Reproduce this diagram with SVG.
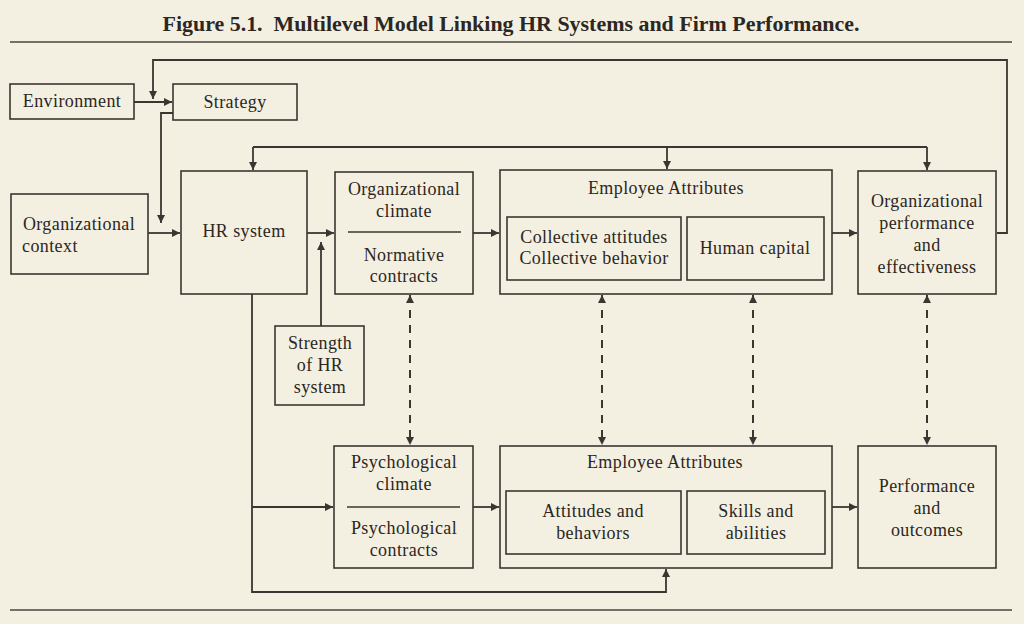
<svg xmlns="http://www.w3.org/2000/svg" width="1024" height="624" viewBox="0 0 1024 624">
<style>
.bg{fill:#f4f0e1}
.box{fill:none;stroke:#3b3631;stroke-width:1.6}
.ln{fill:none;stroke:#3b3631;stroke-width:1.8}
.dash{fill:none;stroke:#3b3631;stroke-width:2;stroke-dasharray:8 7}
.rule{stroke:#4a4540;stroke-width:1.6}
text{font-family:"Liberation Serif","Times New Roman",serif;font-size:18px;fill:#2c2722;text-anchor:middle;letter-spacing:0.4px}
.title{font-weight:bold;font-size:20px;letter-spacing:0;white-space:pre}
</style>
<defs>
<marker id="ah" viewBox="0 0 10 10" refX="10" refY="5" markerWidth="11" markerHeight="8" markerUnits="userSpaceOnUse" orient="auto">
<path d="M0,0 L10,5 L0,10 z" fill="#3b3631"/>
</marker>
<marker id="ahs" viewBox="0 0 10 10" refX="10" refY="5" markerWidth="11" markerHeight="8" markerUnits="userSpaceOnUse" orient="auto-start-reverse">
<path d="M0,0 L10,5 L0,10 z" fill="#3b3631"/>
</marker>
</defs>
<rect class="bg" x="0" y="0" width="1024" height="624"/>
<text class="title" x="511" y="31" textLength="697" lengthAdjust="spacingAndGlyphs">Figure 5.1.  Multilevel Model Linking HR Systems and Firm Performance.</text>
<line class="rule" x1="10" y1="42" x2="1012" y2="42"/>
<line class="rule" x1="10" y1="610" x2="1012" y2="610"/>

<g id="connectors">
<line class="ln" x1="134" y1="102" x2="172" y2="102" marker-end="url(#ah)"/>
<polyline class="ln" points="997,233 1007,233 1007,60 153,60 153,99" marker-end="url(#ah)"/>
<polyline class="ln" points="173,113 161,113 161,223" marker-end="url(#ah)"/>
<line class="ln" x1="148" y1="233" x2="180" y2="233" marker-end="url(#ah)"/>
<polyline class="ln" points="253,147 927,147"/>
<line class="ln" x1="253" y1="147" x2="253" y2="170" marker-end="url(#ah)"/>
<line class="ln" x1="667" y1="147" x2="667" y2="169" marker-end="url(#ah)"/>
<line class="ln" x1="927" y1="147" x2="927" y2="170" marker-end="url(#ah)"/>
<line class="ln" x1="307" y1="233" x2="334" y2="233" marker-end="url(#ah)"/>
<line class="ln" x1="321" y1="326" x2="321" y2="242" marker-end="url(#ah)"/>
<line class="ln" x1="473" y1="233" x2="499" y2="233" marker-end="url(#ah)"/>
<line class="ln" x1="832" y1="233" x2="857" y2="233" marker-end="url(#ah)"/>
<polyline class="ln" points="252,294 252,592 666,592 666,569" marker-end="url(#ah)"/>
<line class="ln" x1="252" y1="507" x2="333" y2="507" marker-end="url(#ah)"/>
<line class="ln" x1="473" y1="507" x2="499" y2="507" marker-end="url(#ah)"/>
<line class="ln" x1="832" y1="507" x2="857" y2="507" marker-end="url(#ah)"/>
<line class="dash" x1="410" y1="295" x2="410" y2="445" marker-start="url(#ahs)" marker-end="url(#ahs)"/>
<line class="dash" x1="602" y1="295" x2="602" y2="445" marker-start="url(#ahs)" marker-end="url(#ahs)"/>
<line class="dash" x1="753" y1="295" x2="753" y2="445" marker-start="url(#ahs)" marker-end="url(#ahs)"/>
<line class="dash" x1="927" y1="295" x2="927" y2="445" marker-start="url(#ahs)" marker-end="url(#ahs)"/>
</g>

<g id="environment">
<rect class="box" x="10" y="84" width="124" height="35"/>
<text x="72" y="107">Environment</text>
</g>
<g id="strategy">
<rect class="box" x="173" y="84" width="124" height="36"/>
<text x="235" y="108">Strategy</text>
</g>
<g id="org-context">
<rect class="box" x="11" y="194" width="137" height="80"/>
<text x="79" y="230">Organizational</text>
<text x="22" y="252" style="text-anchor:start">context</text>
</g>
<g id="hr-system">
<rect class="box" x="181" y="171" width="126" height="123"/>
<text x="244" y="237">HR system</text>
</g>
<g id="org-climate">
<rect class="box" x="335" y="172" width="138" height="122"/>
<text x="404" y="195">Organizational</text>
<text x="404" y="217">climate</text>
<line class="box" x1="348" y1="232" x2="461" y2="232"/>
<text x="404" y="261">Normative</text>
<text x="404" y="282">contracts</text>
</g>
<g id="ea-collective">
<rect class="box" x="500" y="170" width="332" height="124"/>
<text x="666" y="194">Employee Attributes</text>
<rect class="box" x="507" y="217" width="174" height="63"/>
<text x="594" y="243">Collective attitudes</text>
<text x="594" y="264">Collective behavior</text>
<rect class="box" x="687" y="217" width="137" height="63"/>
<text x="755" y="254">Human capital</text>
</g>
<g id="org-performance">
<rect class="box" x="858" y="171" width="138" height="123"/>
<text x="927" y="207">Organizational</text>
<text x="927" y="229">performance</text>
<text x="927" y="251">and</text>
<text x="927" y="273">effectiveness</text>
</g>
<g id="strength">
<rect class="box" x="275" y="326" width="89" height="79"/>
<text x="320" y="349">Strength</text>
<text x="320" y="371">of HR</text>
<text x="320" y="393">system</text>
</g>
<g id="psych-climate">
<rect class="box" x="334" y="446" width="139" height="122"/>
<text x="404" y="468">Psychological</text>
<text x="404" y="490">climate</text>
<line class="box" x1="347" y1="507" x2="460" y2="507"/>
<text x="404" y="534">Psychological</text>
<text x="404" y="556">contracts</text>
</g>
<g id="ea-individual">
<rect class="box" x="500" y="446" width="332" height="122"/>
<text x="665" y="468">Employee Attributes</text>
<rect class="box" x="506" y="491" width="175" height="63"/>
<text x="593" y="517">Attitudes and</text>
<text x="593" y="539">behaviors</text>
<rect class="box" x="687" y="491" width="138" height="63"/>
<text x="756" y="517">Skills and</text>
<text x="756" y="539">abilities</text>
</g>
<g id="performance-outcomes">
<rect class="box" x="858" y="446" width="138" height="122"/>
<text x="927" y="492">Performance</text>
<text x="927" y="514">and</text>
<text x="927" y="536">outcomes</text>
</g>
</svg>
